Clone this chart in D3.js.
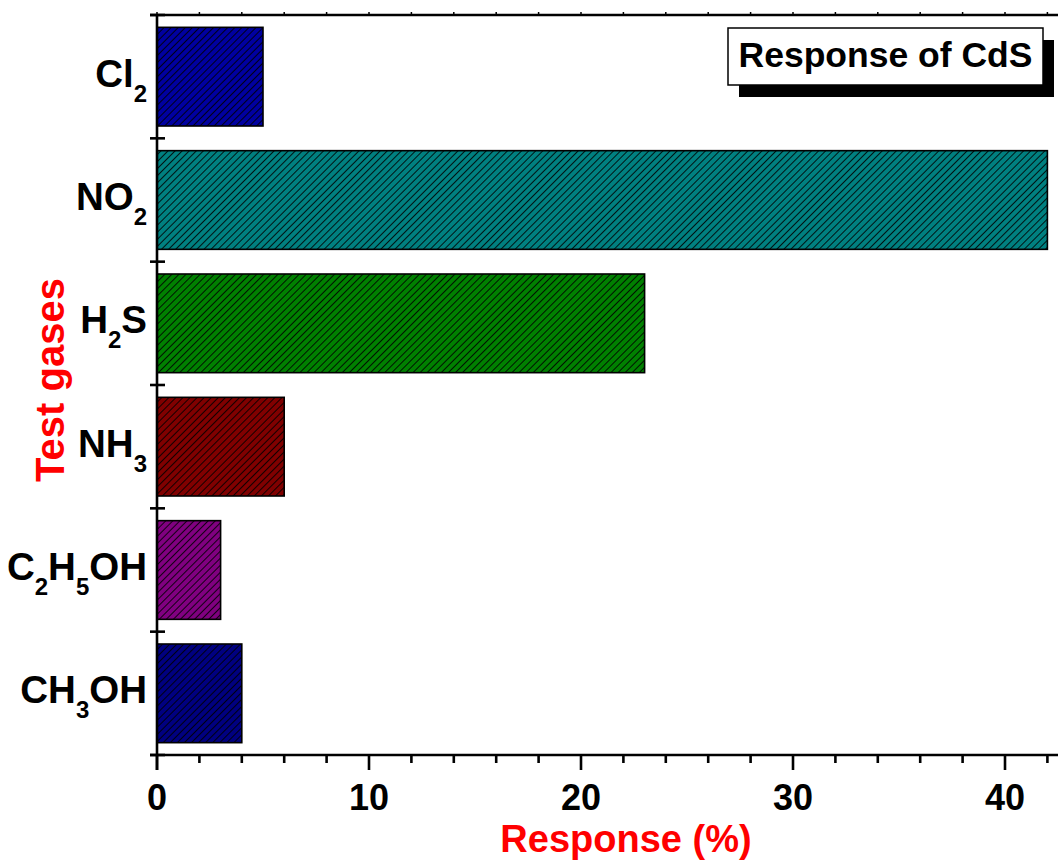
<!DOCTYPE html>
<html>
<head>
<meta charset="utf-8">
<script src="https://cdn.jsdelivr.net/npm/d3@7"></script>
<style>
  html, body { margin: 0; padding: 0; background: #fff; }
  svg { display: block; font-family: Arial, "Liberation Sans", sans-serif; }
</style>
</head>
<body>
<svg id="chart" width="1058" height="863"></svg>
<script>
// ---- data ----
const categories = ["Cl2", "NO2", "H2S", "NH3", "C2H5OH", "CH3OH"];
const categoryParts = [
  [["Cl", false], ["2", true]],
  [["NO", false], ["2", true]],
  [["H", false], ["2", true], ["S", false]],
  [["NH", false], ["3", true]],
  [["C", false], ["2", true], ["H", false], ["5", true], ["OH", false]],
  [["CH", false], ["3", true], ["OH", false]]
];
const responses = [5, 42, 23, 6, 3, 4];
const barColors = ["#0000a0", "#008080", "#008000", "#800000", "#800080", "#000080"];
const xTicksMajor = [0, 10, 20, 30, 40];
const xDomain = [0, 42.5];
const titleText = "Response of CdS";
const xTitle = "Response (%)";
const yTitle = "Test gases";

// ---- layout ----
const svg = d3.select("#chart");
const mLeft = 157, mRight = 1058, mTop = 15, mBottom = 755;

const x = d3.scaleLinear().domain(xDomain).range([mLeft, mRight]);
const y = d3.scaleBand().domain(categories).range([mTop, mBottom])
  .paddingInner(0.2).paddingOuter(0.1);

// patterns
const defs = svg.append("defs");
categories.forEach((c, i) => {
  const p = defs.append("pattern")
    .attr("id", "hatch" + i)
    .attr("patternUnits", "userSpaceOnUse")
    .attr("width", 5).attr("height", 5)
    .attr("patternTransform", "rotate(45)");
  p.append("rect").attr("width", 5).attr("height", 5).attr("fill", barColors[i]);
  p.append("line").attr("x1", 0).attr("y1", 0).attr("x2", 0).attr("y2", 5)
    .attr("stroke", "#000").attr("stroke-width", 1.7);
});

// bars
svg.append("g").selectAll("rect")
  .data(categories)
  .join("rect")
  .attr("x", x(0))
  .attr("y", d => y(d))
  .attr("width", (d, i) => x(responses[i]) - x(0))
  .attr("height", y.bandwidth())
  .attr("fill", (d, i) => `url(#hatch${i})`)
  .attr("stroke", "#000")
  .attr("stroke-width", 1.6);

// bottom axis
const minorTicks = d3.range(0, 43, 2);
const axG = svg.append("g").attr("transform", `translate(0,${mBottom})`);
axG.append("line").attr("x1", mLeft - 7).attr("x2", mRight).attr("y1", 0).attr("y2", 0)
  .attr("stroke", "#000").attr("stroke-width", 2.6);
axG.selectAll("line.minor").data(minorTicks).join("line").attr("class", "minor")
  .attr("x1", d => x(d)).attr("x2", d => x(d))
  .attr("y1", 0).attr("y2", d => xTicksMajor.includes(d) ? 15 : 8)
  .attr("stroke", "#000").attr("stroke-width", 2.6);
axG.selectAll("text").data(xTicksMajor).join("text")
  .attr("x", d => x(d)).attr("y", 55)
  .attr("text-anchor", "middle")
  .attr("font-size", 36).attr("font-weight", "bold")
  .text(d => d);

// top axis
const topG = svg.append("g").attr("transform", `translate(0,${mTop})`);
topG.append("line").attr("x1", mLeft - 7).attr("x2", mRight).attr("y1", 0).attr("y2", 0)
  .attr("stroke", "#000").attr("stroke-width", 2.6);
topG.selectAll("line.minor").data(minorTicks).join("line").attr("class", "minor")
  .attr("x1", d => x(d)).attr("x2", d => x(d))
  .attr("y1", 0).attr("y2", -3)
  .attr("stroke", "#000").attr("stroke-width", 1.5);

// left axis
svg.append("line").attr("x1", mLeft).attr("x2", mLeft).attr("y1", mTop).attr("y2", mBottom + 15)
  .attr("stroke", "#000").attr("stroke-width", 2.6);
const bounds = d3.range(0, categories.length + 1).map(i => mTop + y.step() * i);
svg.append("g").selectAll("line").data(bounds).join("line")
  .attr("x1", mLeft - 7).attr("x2", mLeft + 8)
  .attr("y1", d => d).attr("y2", d => d)
  .attr("stroke", "#000").attr("stroke-width", 2.6);

// y labels with subscripts
const lab = svg.append("g");
categories.forEach((c, i) => {
  const t = lab.append("text")
    .attr("x", 147)
    .attr("y", y(c) + y.bandwidth() / 2 + 10)
    .attr("text-anchor", "end")
    .attr("font-size", 38.5).attr("font-weight", "bold");
  let shifted = false;
  categoryParts[i].forEach(([s, sub]) => {
    const ts = t.append("tspan").text(s);
    if (sub) {
      ts.attr("font-size", 24);
      if (!shifted) { ts.attr("dy", 15); shifted = true; }
    } else if (shifted) {
      ts.attr("dy", -15); shifted = false;
    }
  });
});

// axis titles
svg.append("text")
  .attr("x", 626).attr("y", 852)
  .attr("text-anchor", "middle")
  .attr("font-size", 38).attr("font-weight", "bold").attr("fill", "#ff0000")
  .text(xTitle);
svg.append("text")
  .attr("transform", `translate(64,380) rotate(-90)`)
  .attr("text-anchor", "middle")
  .attr("font-size", 40).attr("font-weight", "bold").attr("fill", "#ff0000")
  .text(yTitle);

// title box with shadow
const bx = 728, by = 28, bw = 315, bh = 57;
svg.append("rect").attr("x", bx + 11).attr("y", by + 12).attr("width", bw).attr("height", bh)
  .attr("fill", "#000");
svg.append("rect").attr("x", bx).attr("y", by).attr("width", bw).attr("height", bh)
  .attr("fill", "#fff").attr("stroke", "#000").attr("stroke-width", 1.5);
svg.append("text")
  .attr("x", bx + bw / 2).attr("y", 67)
  .attr("text-anchor", "middle")
  .attr("font-size", 35.5).attr("font-weight", "bold")
  .text(titleText);
</script>
</body>
</html>
